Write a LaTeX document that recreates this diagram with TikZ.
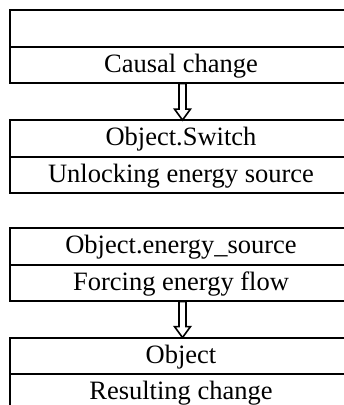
\documentclass[tikz,border=0pt]{standalone}
\usepackage{fontspec}
\setmainfont{Liberation Serif}
\usetikzlibrary{calc}

\tikzset{
  row/.style={rectangle, minimum width=342pt, minimum height=36.5pt,
    inner sep=0pt, text height=21.2pt, text depth=6.4pt,
    font=\fontsize{26.5}{30}\selectfont},
  frame/.style={draw, line width=2pt, line join=miter},
  arrowline/.style={draw, line width=1.6pt, fill=white, line join=miter}
}

% a two-row box whose right side runs off the page
\newcommand\twobox[2]{%
  \draw[frame] ([xshift=30pt]#1.north east) -- (#1.north west) -- (#2.south west)
    -- ([xshift=30pt]#2.south east);
  \draw[frame] (#1.south west) -- ([xshift=30pt]#1.south east);}

% hollow block arrow pointing down from the bottom of #1 to the top of #2
\newcommand\hollowdown[2]{%
  \path[arrowline] let \p1=($(#1.south)+(1.5pt,0)$), \p2=($(#2.north)+(1.5pt,0)$) in
    (\x1-3.5pt,\y1) -- (\x1+3.5pt,\y1) -- (\x1+3.5pt,\y2+11pt) -- (\x1+8pt,\y2+11pt)
    -- (\x1,\y2) -- (\x1-8pt,\y2+11pt) -- (\x1-3.5pt,\y2+11pt) -- cycle;}

\begin{document}
\begin{tikzpicture}[x=1pt, y=-1pt]
  \useasboundingbox (0,0) rectangle (344,405);

  \node[row] (r1) at (181,28.5)  {};
  \node[row] (r2) at (181,65)    {Causal change};
  \node[row] (r3) at (181,138.5) {Object.Switch};
  \node[row] (r4) at (181,175)   {Unlocking energy source};
  \node[row] (r5) at (181,246.5) {Object.energy\_source};
  \node[row] (r6) at (181,283)   {Forcing energy flow};
  \node[row] (r7) at (181,356)   {Object};
  \node[row] (r8) at (181,392.5) {Resulting change};

  \twobox{r1}{r2}
  \twobox{r3}{r4}
  \twobox{r5}{r6}
  \twobox{r7}{r8}

  \hollowdown{r2}{r3}
  \hollowdown{r6}{r7}
\end{tikzpicture}
\end{document}
